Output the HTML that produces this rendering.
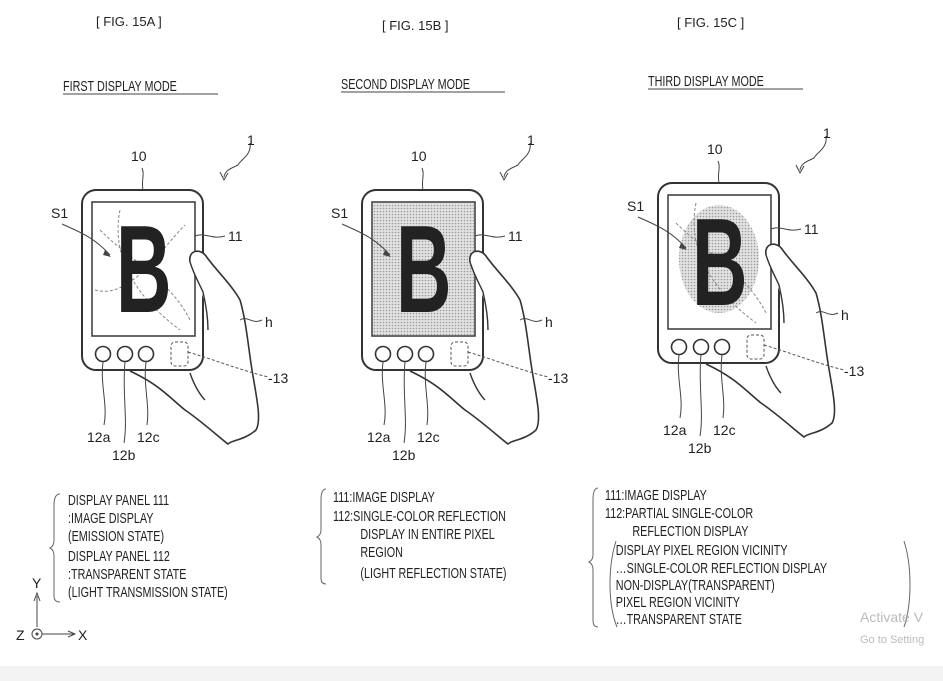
<!DOCTYPE html>
<html><head><meta charset="utf-8"><style>
html,body{margin:0;padding:0;background:#fff;}
svg{display:block;}
text{font-family:"Liberation Sans",sans-serif;fill:#222;}
.n{font-size:15px;}
.m{font-size:14px;}
</style></head><body>
<svg width="943" height="681" viewBox="0 0 943 681" xmlns="http://www.w3.org/2000/svg">
<defs>
<pattern id="dots" width="3" height="3" patternUnits="userSpaceOnUse"><rect width="3" height="3" fill="#e2e2e2"/><circle cx="1.5" cy="1.5" r="0.8" fill="#999"/></pattern>
<g id="frame">
  <rect x="82" y="190" width="121" height="180" rx="14" fill="#fff" stroke="#333" stroke-width="2"/>
  <rect x="92" y="202" width="103" height="134" fill="none" stroke="#444" stroke-width="1.6"/>
  <circle cx="103" cy="354" r="7.5" fill="none" stroke="#333" stroke-width="1.6"/>
  <circle cx="125" cy="354" r="7.5" fill="none" stroke="#333" stroke-width="1.6"/>
  <circle cx="146" cy="354" r="7.5" fill="none" stroke="#333" stroke-width="1.6"/>
  <rect x="171" y="342" width="17" height="24" rx="4" fill="none" stroke="#555" stroke-dasharray="3,2"/>
</g>
<g id="rest">
  <path d="M190 262 C188 250 200 248 206 256 C214 268 232 285 240 300 L206 305 Z" fill="#fff"/>
  <path d="M190 262 C188 250 200 248 206 256 C214 268 232 285 240 300 C246 320 248 345 252 370 C256 395 262 420 256 430 C245 440 232 440 228 444 C220 438 200 420 185 410 C170 398 160 385 130 371" fill="none" stroke="#333" stroke-width="1.6"/>
  <path d="M190 262 C194 275 200 285 203 292 C206 305 208 318 208 330" fill="none" stroke="#333" stroke-width="1.4"/>
  <path d="M190 373 C194 385 200 395 205 400" fill="none" stroke="#333" stroke-width="1.4"/>
  <path d="M143 190 C141 180 145 175 142 168" fill="none" stroke="#444"/>
  <path d="M195 236 C205 232 212 240 225 236" fill="none" stroke="#444"/>
  <path d="M240 320 C248 315 252 325 262 320" fill="none" stroke="#444"/>
  <path d="M188 352 C215 360 240 370 268 377" fill="none" stroke="#555" stroke-dasharray="3,2"/>
  <path d="M103 362 C100 385 108 405 104 425" fill="none" stroke="#444"/>
  <path d="M125 362 C122 390 128 420 124 443" fill="none" stroke="#444"/>
  <path d="M146 362 C143 385 150 405 147 425" fill="none" stroke="#444"/>
  <path d="M62 224 C80 232 95 238 110 255" fill="none" stroke="#444"/>
  <path d="M105 250 L111 257 L103 255 Z" fill="#444"/>
  <path d="M250 143 C252 155 240 160 238 165 C232 168 225 170 224 177" fill="none" stroke="#444"/>
  <path d="M220 172 L224 180 L228 173" fill="none" stroke="#444"/>
  <text class="m" x="131" y="161">10</text>
  <text class="m" x="51" y="218">S1</text>
  <text class="m" x="228" y="241">11</text>
  <text class="m" x="265" y="327">h</text>
  <text class="m" x="268" y="383">-13</text>
  <text class="m" x="87" y="442">12a</text>
  <text class="m" x="137" y="442">12c</text>
  <text class="m" x="112" y="460">12b</text>
  <text class="m" x="247" y="145">1</text>
</g>
<g id="B"><text transform="translate(116,312) scale(0.62,1)" x="0" y="0" font-size="124" font-family="Liberation Sans" font-weight="bold" fill="#222">B</text></g>
</defs>

<text font-size="13" x="96" y="26">[ FIG. 15A ]</text>
<text font-size="13" x="382" y="30">[ FIG. 15B ]</text>
<text font-size="13" x="677" y="27">[ FIG. 15C ]</text>
<g transform="translate(63,91) scale(0.72,1)"><text class="n" x="0" y="0">FIRST DISPLAY MODE</text></g>
<line x1="63" y1="94" x2="218" y2="94" stroke="#444"/>
<g transform="translate(341,89) scale(0.72,1)"><text class="n" x="0" y="0">SECOND DISPLAY MODE</text></g>
<line x1="341" y1="92" x2="505" y2="92" stroke="#444"/>
<g transform="translate(648,86) scale(0.72,1)"><text class="n" x="0" y="0">THIRD DISPLAY MODE</text></g>
<line x1="648" y1="89" x2="803" y2="89" stroke="#444"/>

<!-- A -->
<use href="#frame"/>
<g stroke="#888" fill="none" stroke-dasharray="3,2"><path d="M100 230 C130 260 170 280 190 320"/><path d="M120 210 C110 260 140 300 180 330"/><path d="M95 290 C130 300 160 250 185 225"/></g>
<use href="#B"/>
<use href="#rest"/>

<!-- B -->
<g transform="translate(280,0)"><use href="#frame"/><rect x="93" y="203" width="101" height="132" fill="url(#dots)"/>
<use href="#B"/><use href="#rest"/></g>

<!-- C -->
<g transform="translate(576,-7)"><use href="#frame"/>
<ellipse cx="143" cy="266" rx="40" ry="54" fill="url(#dots)"/>
<g stroke="#888" fill="none" stroke-dasharray="3,2"><path d="M100 230 C130 260 170 280 190 320"/><path d="M120 210 C110 260 140 300 180 330"/></g>
<use href="#B"/><use href="#rest"/></g>

<!-- text blocks -->
<path d="M60 494 Q54 494 54 505 L54 540 Q54 546 50 548 Q54 550 54 556 L54 596 Q54 602 60 602" fill="none" stroke="#666"/>
<g transform="translate(68,0) scale(0.72,1)" class="n">
<text x="0" y="505">DISPLAY PANEL 111</text>
<text x="0" y="523">:IMAGE DISPLAY</text>
<text x="0" y="541">(EMISSION STATE)</text>
<text x="0" y="561">DISPLAY PANEL 112</text>
<text x="0" y="579">:TRANSPARENT STATE</text>
<text x="0" y="597">(LIGHT TRANSMISSION STATE)</text>
</g>
<path d="M326 489 Q321 489 321 500 L321 530 Q321 535 317 537 Q321 539 321 545 L321 578 Q321 584 326 584" fill="none" stroke="#666"/>
<g transform="translate(333,0) scale(0.72,1)" class="n">
<text x="0" y="502">111:IMAGE DISPLAY</text>
<text x="0" y="521">112:SINGLE-COLOR REFLECTION</text>
<text x="38" y="539">DISPLAY IN ENTIRE PIXEL</text>
<text x="38" y="557">REGION</text>
<text x="38" y="578">(LIGHT REFLECTION STATE)</text>
</g>
<path d="M598 488 Q593 488 593 500 L593 555 Q593 560 589 562 Q593 564 593 570 L593 620 Q593 627 598 627" fill="none" stroke="#666"/>
<path d="M616 541 Q610 560 610 584 Q610 610 617 627" fill="none" stroke="#666"/>
<path d="M904 541 Q910 560 910 584 Q910 610 904 627" fill="none" stroke="#666"/>
<g transform="translate(605,0) scale(0.72,1)" class="n">
<text x="0" y="500">111:IMAGE DISPLAY</text>
<text x="0" y="518">112:PARTIAL SINGLE-COLOR</text>
<text x="38" y="536">REFLECTION DISPLAY</text>
<text x="15" y="555">DISPLAY PIXEL REGION VICINITY</text>
<text x="15" y="573">…SINGLE-COLOR REFLECTION DISPLAY</text>
<text x="15" y="590">NON-DISPLAY(TRANSPARENT)</text>
<text x="15" y="607">PIXEL REGION VICINITY</text>
<text x="15" y="624">…TRANSPARENT STATE</text>
</g>

<!-- axes -->
<text class="m" x="32" y="588">Y</text>
<line x1="37" y1="596" x2="37" y2="627" stroke="#444"/>
<path d="M34 601 L37 593 L40 601" fill="none" stroke="#444"/>
<text class="m" x="16" y="640">Z</text>
<circle cx="37" cy="634" r="5" fill="none" stroke="#444"/><circle cx="37" cy="634" r="1.5" fill="#444"/>
<line x1="42" y1="634" x2="74" y2="634" stroke="#444"/>
<path d="M68 631 L75 634 L68 637" fill="none" stroke="#444"/>
<text class="m" x="78" y="640">X</text>

<text x="860" y="622" font-size="14" style="fill:#bbb">Activate V</text>
<text x="860" y="643" font-size="11" style="fill:#bbb">Go to Setting</text>
<rect x="0" y="666" width="943" height="15" fill="#f3f3f3"/>
</svg>
</body></html>
